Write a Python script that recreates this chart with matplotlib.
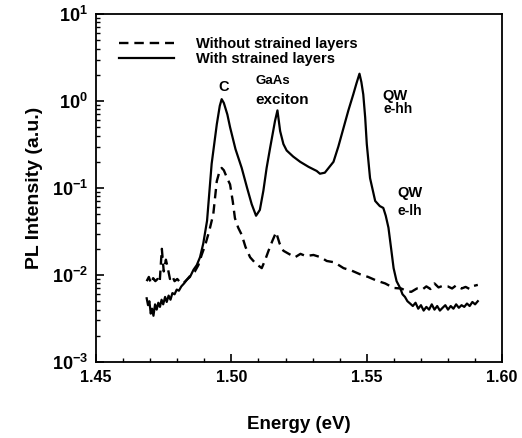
import matplotlib
matplotlib.use("Agg")
import matplotlib.pyplot as plt
from matplotlib.ticker import LogLocator, MultipleLocator, NullFormatter, FixedLocator

plt.rcParams['font.family'] = ['Liberation Sans', 'DejaVu Sans']
plt.rcParams['mathtext.fontset'] = 'custom'
plt.rcParams['mathtext.bf'] = 'Liberation Sans:bold'
plt.rcParams['mathtext.rm'] = 'Liberation Sans:bold'

# With strained layers (solid)
e_with = [1.4687, 1.4692, 1.4697, 1.4702, 1.4707, 1.4712, 1.4718, 1.4724, 1.4730, 1.4736,
          1.4742, 1.4748, 1.4755, 1.4761, 1.4768, 1.4775, 1.4782, 1.4790, 1.4798, 1.4806,
          1.4815, 1.4825, 1.4835, 1.4847, 1.4860, 1.4872, 1.4884, 1.4896, 1.4910, 1.4927,
          1.4946, 1.4957, 1.4964, 1.4972, 1.4985, 1.4995, 1.5015, 1.5038, 1.5058, 1.5075,
          1.5091, 1.5105, 1.5118, 1.5130, 1.5143, 1.5161, 1.5170, 1.5180, 1.5192, 1.5204,
          1.5228, 1.5254, 1.5285, 1.5315, 1.5327, 1.5345, 1.5377, 1.5395, 1.5414, 1.5432,
          1.5450, 1.5462, 1.5473, 1.5480, 1.5487, 1.5494, 1.5500, 1.5512, 1.5531, 1.5548,
          1.5561, 1.5570, 1.5580, 1.5590, 1.5599, 1.5610, 1.5623, 1.5632, 1.5641, 1.5650,
          1.5660, 1.5670, 1.5680, 1.5690, 1.5700, 1.5710, 1.5720, 1.5730, 1.5740, 1.5750,
          1.5760, 1.5770, 1.5780, 1.5790, 1.5800, 1.5810, 1.5820, 1.5830, 1.5840, 1.5850,
          1.5860, 1.5870, 1.5880, 1.5890, 1.5900, 1.5910]
i_with = [0.0054, 0.0045, 0.0050, 0.0036, 0.0041, 0.0034, 0.0046, 0.0040, 0.0048, 0.0043,
          0.0052, 0.0046, 0.0056, 0.0049, 0.0058, 0.0052, 0.0062, 0.0060, 0.0068, 0.0066,
          0.0074, 0.0080, 0.0088, 0.0095, 0.0115, 0.0130, 0.0160, 0.0230, 0.0420, 0.1900,
          0.5400, 0.8800, 1.0500, 0.9500, 0.7000, 0.5000, 0.2800, 0.1700, 0.1000, 0.0650,
          0.0480, 0.0560, 0.0930, 0.1700, 0.2900, 0.5900, 0.7800, 0.4500, 0.3200, 0.2700,
          0.2300, 0.2000, 0.1750, 0.1570, 0.1460, 0.1500, 0.2000, 0.3000, 0.4900, 0.7800,
          1.1900, 1.6000, 2.0600, 1.6500, 1.1900, 0.6500, 0.3200, 0.1300, 0.0710, 0.0620,
          0.0590, 0.0480, 0.0350, 0.0200, 0.0120, 0.0085, 0.0071, 0.0060, 0.0056, 0.0050,
          0.0047, 0.0044, 0.0048, 0.0041, 0.0045, 0.0039, 0.0043, 0.0040, 0.0046, 0.0040,
          0.0044, 0.0039, 0.0042, 0.0045, 0.0040, 0.0044, 0.0041, 0.0046, 0.0042, 0.0045,
          0.0043, 0.0047, 0.0044, 0.0049, 0.0046, 0.0050]

# Without strained layers (dashed)
e_without = [1.4687, 1.4695, 1.4703, 1.4711, 1.4719, 1.4727, 1.4735, 1.4743, 1.4750, 1.4758,
             1.4765, 1.4773, 1.4781, 1.4790, 1.4800, 1.4811, 1.4822, 1.4835, 1.4850, 1.4865,
             1.4878, 1.4890, 1.4903, 1.4918, 1.4933, 1.4946, 1.4956, 1.4964, 1.4972, 1.4984,
             1.4995, 1.5005, 1.5013, 1.5025, 1.5038, 1.5052, 1.5069, 1.5090, 1.5112, 1.5125,
             1.5137, 1.5152, 1.5165, 1.5178, 1.5192, 1.5212, 1.5235, 1.5255, 1.5275, 1.5303,
             1.5330, 1.5352, 1.5380, 1.5414, 1.5445, 1.5475, 1.5505, 1.5537, 1.5568, 1.5599,
             1.5627, 1.5645, 1.5664, 1.5685, 1.5705, 1.5720, 1.5735, 1.5750, 1.5765, 1.5780,
             1.5799, 1.5815, 1.5830, 1.5850, 1.5865, 1.5880, 1.5895, 1.5910]
i_without = [0.0085, 0.0095, 0.0080, 0.0092, 0.0085, 0.0090, 0.0082, 0.0200, 0.0110, 0.0150,
             0.0120, 0.0090, 0.0098, 0.0085, 0.0090, 0.0082, 0.0080, 0.0088, 0.0100, 0.0110,
             0.0130, 0.0170, 0.0220, 0.0320, 0.0500, 0.1200, 0.1550, 0.1700, 0.1600, 0.1300,
             0.1100, 0.0700, 0.0450, 0.0350, 0.0290, 0.0210, 0.0160, 0.0135, 0.0120, 0.0150,
             0.0190, 0.0250, 0.0310, 0.0230, 0.0190, 0.0175, 0.0160, 0.0175, 0.0165, 0.0170,
             0.0160, 0.0145, 0.0140, 0.0120, 0.0112, 0.0102, 0.0095, 0.0086, 0.0080, 0.0071,
             0.0070, 0.0066, 0.0064, 0.0070, 0.0068, 0.0074, 0.0069, 0.0080, 0.0072, 0.0075,
             0.0074, 0.0070, 0.0076, 0.0070, 0.0073, 0.0069, 0.0075, 0.0077]

xticks = [1.45, 1.50, 1.55, 1.60]
xtick_labels = ["1.45", "1.50", "1.55", "1.60"]
yticks = [1e-3, 1e-2, 1e-1, 1e0, 1e1]
ytick_labels = [r'$\mathbf{10^{-3}}$', r'$\mathbf{10^{-2}}$', r'$\mathbf{10^{-1}}$',
                r'$\mathbf{10^{0}}$', r'$\mathbf{10^{1}}$']

fig = plt.figure(figsize=(5.22, 4.38), dpi=100)
ax = fig.add_axes([0.184, 0.1735, 0.778, 0.7945])

ax.plot(e_without, i_without, color='black', lw=1.7, ls=(0, (4, 2.5)), label='Without strained layers')
ax.plot(e_with, i_with, color='black', lw=1.6, ls='-', label='With strained layers')

ax.set_yscale('log')
ax.set_xlim(1.45, 1.60)
ax.set_ylim(1e-3, 1e1)

ax.xaxis.set_major_locator(FixedLocator(xticks))
ax.set_xticklabels(xtick_labels, fontsize=11.5, fontweight='bold')
ax.xaxis.set_minor_locator(MultipleLocator(0.01))
ax.yaxis.set_major_locator(FixedLocator(yticks))
ax.set_yticklabels(ytick_labels, fontsize=13)
ax.yaxis.set_minor_locator(LogLocator(base=10, subs=range(2, 10)))
ax.yaxis.set_minor_formatter(NullFormatter())

ax.tick_params(which='major', direction='in', length=6, width=1.2, top=False, right=False, pad=6)
ax.tick_params(which='minor', direction='in', length=3, width=1.0, top=False, right=False)
for s in ax.spines.values():
    s.set_linewidth(1.3)

ax.set_xlabel('Energy (eV)', fontsize=13.5, fontweight='bold', labelpad=22)
ax.set_ylabel('PL Intensity (a.u.)', fontsize=14, fontweight='bold', labelpad=6)

leg = ax.legend(loc='upper left', bbox_to_anchor=(0.035, 0.96), frameon=False,
                handlelength=3.8, handletextpad=1.5, borderaxespad=0.2, labelspacing=0.1,
                prop={'size': 10.5, 'weight': 'bold'})

ax.text(1.4971, 1.20, 'C', ha='center', va='bottom', fontsize=10.5, fontweight='bold')
ax.text(1.5152, 1.70, 'GaAs', ha='center', va='center', fontsize=9.5, fontweight='bold')
ax.text(1.5187, 1.03, 'exciton', ha='center', va='center', fontsize=11, fontweight='bold')
ax.text(1.5603, 1.14, 'QW', ha='center', va='center', fontsize=10.5, fontweight='bold')
ax.text(1.5616, 0.81, 'e-hh', ha='center', va='center', fontsize=10, fontweight='bold')
ax.text(1.5660, 0.088, 'QW', ha='center', va='center', fontsize=10.5, fontweight='bold')
ax.text(1.5660, 0.054, 'e-lh', ha='center', va='center', fontsize=10, fontweight='bold')

fig.savefig('out.png', dpi=100)
